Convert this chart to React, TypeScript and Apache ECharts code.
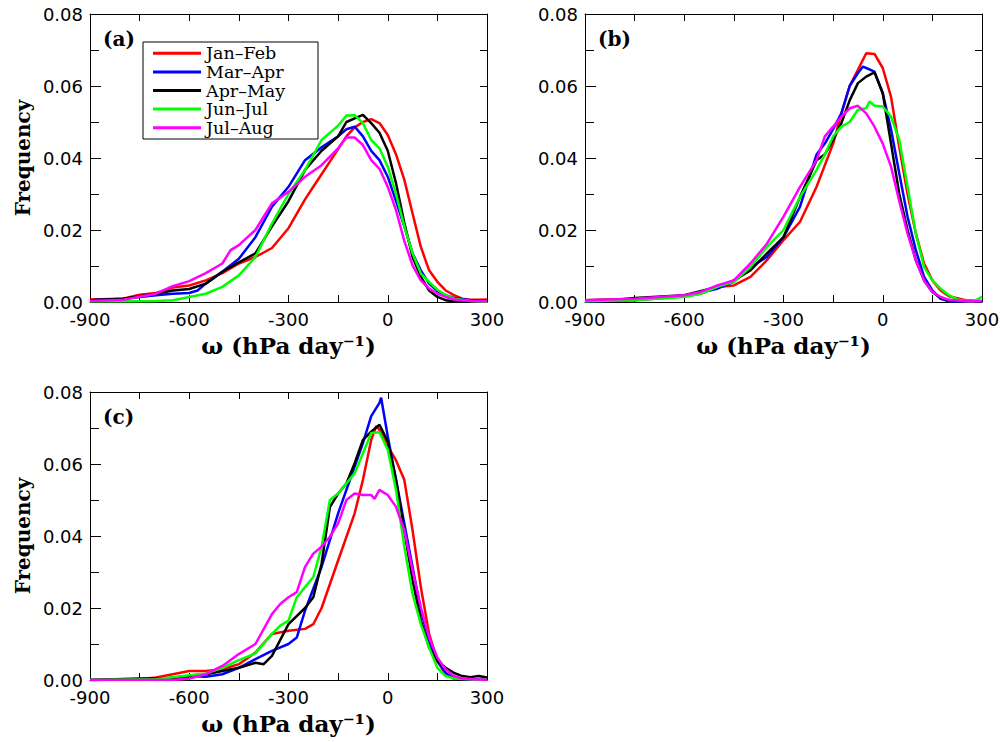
import React, { useEffect, useRef } from "react";
import * as echarts from "echarts";

// Season names (legend)
const SEASONS = ["Jan–Feb", "Mar–Apr", "Apr–May", "Jun–Jul", "Jul–Aug"];
const COLORS = ["#ff0000", "#0000ff", "#000000", "#00ff00", "#ff00ff"];
const PANEL_LABELS = ["(a)", "(b)", "(c)"];
const X_TICKS = [-900, -600, -300, 0, 300];
const Y_TICKS = [0, 0.02, 0.04, 0.06, 0.08];

// Panel (a): [omega, frequency]
const aJanFeb = [[-900,0.0007],[-800,0.0009],[-750,0.002],[-700,0.0025],[-650,0.004],[-600,0.0046],[-550,0.006],[-500,0.008],[-450,0.0107],[-400,0.0125],[-350,0.015],[-300,0.0205],[-250,0.0285],[-225,0.032],[-200,0.0355],[-175,0.039],[-150,0.0425],[-125,0.046],[-100,0.0485],[-75,0.050],[-50,0.0508],[-25,0.0497],[0,0.0464],[25,0.041],[50,0.034],[75,0.0246],[100,0.0153],[125,0.0088],[150,0.0056],[175,0.0032],[200,0.0019],[225,0.0009],[250,0.0006],[275,0.0006],[300,0.0007]];
const aMarApr = [[-900,0.0005],[-800,0.0009],[-750,0.0014],[-700,0.0019],[-650,0.0023],[-600,0.0025],[-575,0.0032],[-550,0.0051],[-500,0.0084],[-450,0.012],[-400,0.018],[-350,0.0265],[-300,0.032],[-250,0.0394],[-200,0.043],[-150,0.046],[-125,0.048],[-100,0.0487],[-75,0.046],[-50,0.042],[-25,0.0394],[0,0.0348],[25,0.028],[50,0.021],[75,0.0135],[100,0.0088],[125,0.0051],[150,0.003],[175,0.0019],[200,0.0011],[250,0.0005],[300,0.0003]];
const aAprMay = [[-900,0.0005],[-800,0.0009],[-700,0.0023],[-650,0.0032],[-600,0.0036],[-550,0.0051],[-500,0.0084],[-450,0.011],[-400,0.0135],[-350,0.021],[-300,0.028],[-250,0.0367],[-200,0.042],[-150,0.046],[-125,0.050],[-100,0.051],[-75,0.052],[-50,0.0497],[-25,0.047],[0,0.042],[25,0.033],[50,0.022],[75,0.0125],[100,0.007],[125,0.0032],[150,0.0014],[175,0.0005],[200,0.0002],[250,0.0001],[300,0.0001]];
const aJunJul = [[-900,0.0002],[-800,0.0002],[-700,0.0003],[-650,0.0005],[-600,0.0014],[-550,0.0023],[-500,0.0042],[-450,0.0074],[-400,0.0125],[-350,0.0218],[-300,0.030],[-250,0.0367],[-200,0.045],[-150,0.049],[-125,0.0518],[-100,0.0519],[-75,0.0497],[-50,0.045],[-25,0.0427],[0,0.0376],[25,0.030],[50,0.021],[75,0.0135],[100,0.0079],[125,0.0056],[150,0.0034],[175,0.0019],[200,0.0009],[250,0.0003],[300,0.0001]];
const aJulAug = [[-900,0.0003],[-800,0.0006],[-700,0.0023],[-650,0.0044],[-600,0.0058],[-550,0.008],[-500,0.0107],[-475,0.0144],[-450,0.0158],[-400,0.020],[-350,0.0274],[-300,0.0306],[-250,0.0348],[-200,0.038],[-150,0.0427],[-125,0.0457],[-100,0.0457],[-75,0.0436],[-50,0.0394],[-25,0.037],[0,0.032],[25,0.0255],[50,0.017],[75,0.0102],[100,0.006],[125,0.0037],[150,0.0023],[175,0.0014],[200,0.0007],[250,0.0003],[300,0.0002]];

// Panel (b)
const bJanFeb = [[-900,0.0005],[-750,0.0009],[-600,0.0016],[-550,0.0023],[-500,0.0042],[-450,0.0046],[-400,0.007],[-350,0.0116],[-300,0.0172],[-250,0.0223],[-200,0.032],[-150,0.044],[-125,0.0524],[-100,0.060],[-75,0.0645],[-50,0.0691],[-25,0.0689],[0,0.065],[25,0.057],[50,0.043],[75,0.030],[100,0.019],[125,0.0107],[150,0.006],[175,0.0032],[200,0.0016],[250,0.0005],[300,0.0003]];
const bMarApr = [[-900,0.0002],[-750,0.0005],[-600,0.0016],[-500,0.0037],[-450,0.0056],[-400,0.0097],[-350,0.0125],[-300,0.018],[-250,0.0265],[-200,0.041],[-175,0.044],[-150,0.048],[-125,0.0524],[-100,0.060],[-75,0.0636],[-60,0.0654],[-50,0.065],[-25,0.064],[0,0.058],[25,0.048],[50,0.0357],[75,0.0237],[100,0.0144],[125,0.007],[150,0.0032],[175,0.0009],[200,0.0002],[300,0.0001]];
const bAprMay = [[-900,0.0005],[-800,0.0006],[-750,0.0011],[-600,0.0019],[-500,0.0042],[-450,0.006],[-400,0.0088],[-350,0.0135],[-300,0.018],[-250,0.0292],[-200,0.0394],[-175,0.041],[-150,0.045],[-125,0.0497],[-100,0.056],[-75,0.0608],[-50,0.0626],[-25,0.0638],[0,0.058],[25,0.044],[50,0.030],[75,0.020],[100,0.0116],[125,0.006],[150,0.0028],[175,0.0011],[200,0.0005],[250,0.0002],[300,0.0002]];
const bJunJul = [[-900,0.0002],[-750,0.0005],[-600,0.0014],[-550,0.0023],[-500,0.0042],[-450,0.0056],[-400,0.0097],[-350,0.0153],[-300,0.020],[-250,0.0292],[-200,0.0367],[-175,0.041],[-150,0.046],[-125,0.0487],[-100,0.050],[-75,0.0534],[-50,0.0538],[-40,0.0557],[-25,0.0545],[0,0.0543],[25,0.0515],[50,0.045],[75,0.032],[100,0.019],[125,0.0097],[150,0.006],[175,0.0037],[200,0.0019],[225,0.0007],[250,0.0003],[275,0.0002],[300,0.0014]];
const bJulAug = [[-900,0.0005],[-750,0.0009],[-600,0.0019],[-550,0.0028],[-500,0.0046],[-450,0.006],[-400,0.0107],[-350,0.0162],[-300,0.0237],[-250,0.032],[-200,0.0394],[-175,0.046],[-150,0.0487],[-125,0.0515],[-100,0.0538],[-75,0.0545],[-50,0.0524],[-25,0.0487],[0,0.044],[25,0.0376],[50,0.028],[75,0.019],[100,0.0116],[125,0.006],[150,0.0028],[175,0.0014],[200,0.0006],[250,0.0002],[300,0.0002]];

// Panel (c)
const cJanFeb = [[-900,0],[-750,0.0002],[-700,0.0007],[-650,0.0016],[-600,0.0025],[-550,0.0025],[-500,0.003],[-450,0.0044],[-400,0.0076],[-350,0.0128],[-300,0.0137],[-250,0.0142],[-225,0.0155],[-200,0.020],[-150,0.0332],[-100,0.0463],[-75,0.0556],[-50,0.0667],[-35,0.0705],[-25,0.0695],[0,0.065],[25,0.061],[50,0.0556],[75,0.0416],[100,0.0258],[125,0.0128],[150,0.0053],[175,0.0016],[200,0.0004],[300,0]];
const cMarApr = [[-900,0],[-700,0.0002],[-600,0.0011],[-550,0.0009],[-500,0.0016],[-450,0.0034],[-400,0.0058],[-350,0.0081],[-300,0.010],[-275,0.0118],[-250,0.0193],[-200,0.0314],[-150,0.0463],[-100,0.0593],[-75,0.0658],[-50,0.0733],[-25,0.077],[-20,0.0784],[0,0.0677],[25,0.0556],[50,0.0435],[75,0.0314],[100,0.0193],[125,0.0109],[150,0.0053],[175,0.002],[200,0.0004],[300,0]];
const cAprMay = [[-900,0],[-750,0.0004],[-650,0.0004],[-600,0.0009],[-550,0.0016],[-500,0.0025],[-450,0.0034],[-400,0.0048],[-375,0.0044],[-350,0.0067],[-300,0.0155],[-250,0.020],[-225,0.023],[-200,0.0323],[-175,0.048],[-150,0.0518],[-125,0.0546],[-100,0.0602],[-75,0.0667],[-50,0.069],[-25,0.0709],[0,0.0663],[25,0.0556],[50,0.0416],[75,0.0277],[100,0.0165],[125,0.009],[150,0.0053],[175,0.0034],[200,0.002],[225,0.0011],[250,0.0008],[275,0.0011],[300,0.0007]];
const cJunJul = [[-900,0],[-700,0.0002],[-600,0.0013],[-550,0.0018],[-500,0.0034],[-450,0.0055],[-400,0.0074],[-350,0.0128],[-325,0.0151],[-300,0.0165],[-275,0.023],[-250,0.0258],[-225,0.0286],[-200,0.037],[-175,0.050],[-150,0.0518],[-100,0.0574],[-75,0.063],[-50,0.0686],[-25,0.0688],[0,0.064],[25,0.0528],[50,0.037],[75,0.0239],[100,0.0155],[125,0.009],[150,0.0034],[175,0.0011],[200,0.0004],[300,0]];
const cJulAug = [[-900,0],[-650,0],[-600,0.0004],[-550,0.0016],[-500,0.0039],[-450,0.0072],[-400,0.010],[-350,0.0183],[-325,0.0211],[-300,0.023],[-275,0.0244],[-250,0.0314],[-225,0.0351],[-200,0.037],[-175,0.0398],[-150,0.0435],[-125,0.050],[-100,0.0518],[-75,0.0514],[-50,0.0514],[-40,0.0503],[-25,0.0528],[0,0.0514],[25,0.0481],[50,0.0416],[75,0.0304],[100,0.0202],[125,0.0118],[150,0.0062],[175,0.003],[200,0.0011],[225,0.0004],[300,0]];

const PANELS = [
  [aJanFeb, aMarApr, aAprMay, aJunJul, aJulAug],
  [bJanFeb, bMarApr, bAprMay, bJunJul, bJulAug],
  [cJanFeb, cMarApr, cAprMay, cJunJul, cJulAug],
];

const GRIDS = [
  { left: 90, top: 14, width: 397, height: 288 },
  { left: 585, top: 14, width: 397, height: 288 },
  { left: 90, top: 392, width: 397, height: 288 },
];

const SANS = "DejaVu Sans";
const SERIF = "DejaVu Serif";

export default function App() {
  const ref = useRef<HTMLDivElement>(null);
  useEffect(() => {
    document.body.style.margin = "0";
    const chart = echarts.init(ref.current!, null, { renderer: "svg" });
    const xAxis: any[] = [];
    const yAxis: any[] = [];
    const series: any[] = [];
    const graphic: any[] = [];
    GRIDS.forEach((g, gi) => {
      const lineStyle = { color: "#000", width: 1 };
      xAxis.push({
        type: "value", gridIndex: gi, position: "bottom",
        min: X_TICKS[0], max: X_TICKS[X_TICKS.length - 1], interval: 300,
        axisLine: { show: true, onZero: false, lineStyle },
        axisTick: { show: true, inside: true, length: 7, lineStyle },
        minorTick: { show: true, splitNumber: 2, length: 7, lineStyle },
        splitLine: { show: false },
        axisLabel: { color: "#000", fontFamily: SANS, fontSize: 18, margin: 8 },
        name: "ω (hPa day⁻¹)", nameLocation: "middle", nameGap: 32,
        nameTextStyle: { color: "#000", fontFamily: SERIF, fontWeight: "bold", fontSize: 23 },
      });
      xAxis.push({
        type: "value", gridIndex: gi, position: "top",
        min: X_TICKS[0], max: X_TICKS[X_TICKS.length - 1], interval: 300,
        axisLine: { show: true, onZero: false, lineStyle },
        axisTick: { show: true, inside: true, length: 7, lineStyle },
        minorTick: { show: true, splitNumber: 2, length: 7, lineStyle },
        splitLine: { show: false },
        axisLabel: { show: false },
      });
      yAxis.push({
        type: "value", gridIndex: gi, position: "left",
        min: Y_TICKS[0], max: Y_TICKS[Y_TICKS.length - 1], interval: 0.02,
        axisLine: { show: true, onZero: false, lineStyle },
        axisTick: { show: true, inside: true, length: 11, lineStyle },
        minorTick: { show: true, splitNumber: 2, length: 9, lineStyle },
        splitLine: { show: false },
        axisLabel: { color: "#000", fontFamily: SANS, fontSize: 18, margin: 7, formatter: (v: number) => v.toFixed(2) },
        name: gi === 1 ? "" : "Frequency", nameLocation: "middle", nameGap: 57, nameRotate: 90,
        nameTextStyle: { color: "#000", fontFamily: SERIF, fontWeight: "bold", fontSize: 20 },
      });
      yAxis.push({
        type: "value", gridIndex: gi, position: "right",
        min: Y_TICKS[0], max: Y_TICKS[Y_TICKS.length - 1], interval: 0.02,
        axisLine: { show: true, onZero: false, lineStyle },
        axisTick: { show: true, inside: true, length: 7, lineStyle },
        minorTick: { show: true, splitNumber: 2, length: 7, lineStyle },
        splitLine: { show: false },
        axisLabel: { show: false },
      });
      PANELS[gi].forEach((data, si) => {
        series.push({
          type: "line", name: SEASONS[si], xAxisIndex: gi * 2, yAxisIndex: gi * 2,
          data, showSymbol: false, symbol: "none", smooth: false,
          lineStyle: { color: COLORS[si], width: 2.5 }, itemStyle: { color: COLORS[si] },
          z: 2 + si,
        });
      });
      graphic.push({
        type: "text", left: g.left + 13, top: g.top + 15,
        style: { text: PANEL_LABELS[gi], fontFamily: SERIF, fontWeight: "bold", fontSize: 20, fill: "#000" },
      });
    });
    chart.setOption({
      animation: false,
      backgroundColor: "#fff",
      grid: GRIDS.map((g) => ({ ...g, containLabel: false })),
      xAxis, yAxis, series, graphic,
      legend: {
        data: SEASONS.map((name) => ({ name, icon: "rect" })),
        orient: "vertical", left: 143, top: 42,
        itemWidth: 48, itemHeight: 3, itemGap: 0,
        padding: [2, 8, 2, 10],
        borderColor: "#000", borderWidth: 1,
        selectedMode: false,
        textStyle: { color: "#000", fontFamily: SERIF, fontSize: 17.5, lineHeight: 18.6, width: 104, overflow: "none" },
      },
    });
    return () => chart.dispose();
  }, []);
  return <div ref={ref} style={{ width: 1008, height: 742 }} />;
}
